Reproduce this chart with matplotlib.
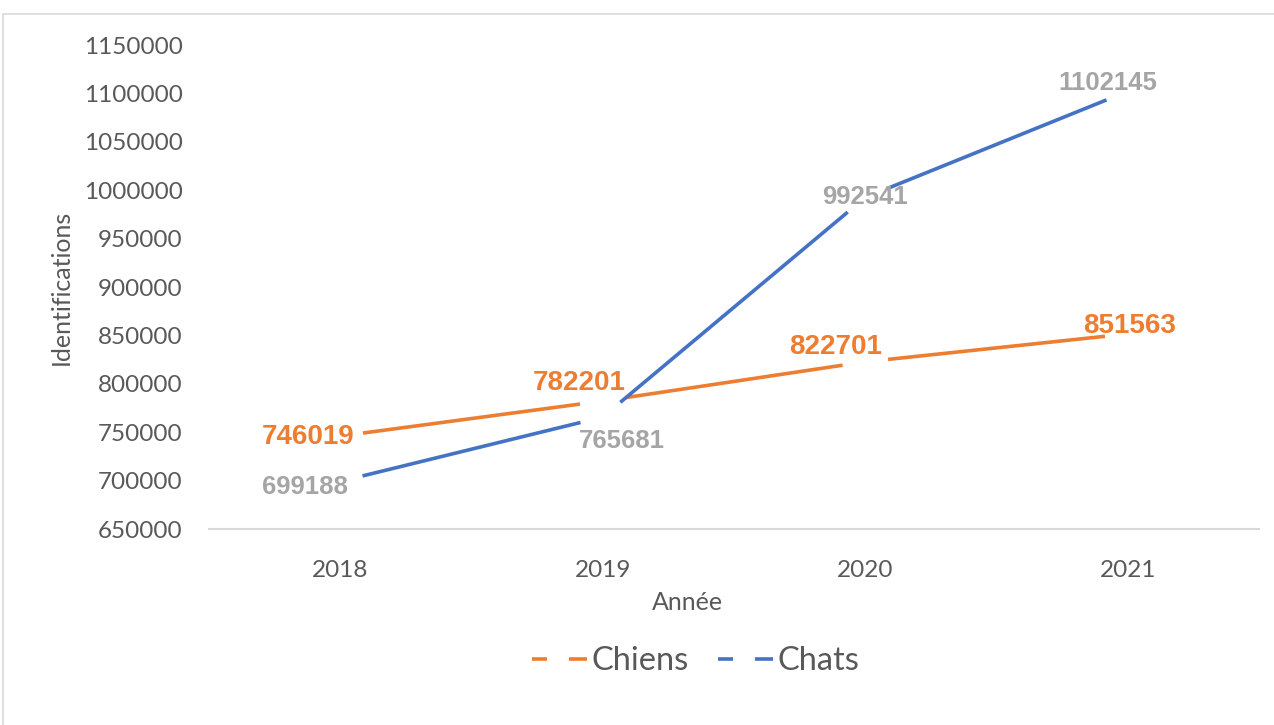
import matplotlib
matplotlib.use("Agg")
import matplotlib.pyplot as plt
from matplotlib.lines import Line2D
from matplotlib.patches import Rectangle
from matplotlib.ticker import FuncFormatter

years = ["2018", "2019", "2020", "2021"]
chiens = [746019, 782201, 822701, 851563]
chats = [699188, 765681, 992541, 1102145]

# label offsets in pixels (dx, dy), as placed in the original chart
chiens_offsets = [(-32, -1), (-24, 18), (-30, 15), (2, 8)]
chats_offsets = [(-35, -6), (19, -24), (0, 0), (-20, 8)]

ORANGE = "#ED7D31"
BLUE = "#4472C4"
GREY_LABEL = "#A5A5A5"
TEXT = "#595959"
UI_FONT = ["Lato", "DejaVu Sans"]
LABEL_FONT = ["Liberation Sans", "DejaVu Sans"]
GAP = 16.5  # points cut from each segment end around a data point
LW = 2.6


def draw_series(ax, values, color):
    xs = list(range(len(values)))
    for i in range(len(values) - 1):
        ax.annotate("", xy=(xs[i + 1], values[i + 1]), xytext=(xs[i], values[i]),
                    xycoords="data", textcoords="data",
                    arrowprops=dict(arrowstyle="-", color=color, lw=LW,
                                    shrinkA=GAP, shrinkB=GAP, capstyle="butt"))


def label_series(ax, values, offsets, color, size):
    for i, (v, (dx, dy)) in enumerate(zip(values, offsets)):
        ax.annotate(str(v), xy=(i, v), xytext=(dx, dy), textcoords="offset pixels",
                    ha="center", va="center", fontsize=size, fontweight="bold",
                    color=color, family=LABEL_FONT)


def main():
    plt.rcParams["lines.scale_dashes"] = False
    fig = plt.figure(figsize=(12.74, 7.25), dpi=100)
    ax = fig.add_axes([209 / 1274, 1 - 529 / 725, 1050 / 1274, 484 / 725])

    # chart area border
    fig.add_artist(Rectangle((3 / 1274, -0.1), 1.2, 1.1 - 14 / 725,
                             transform=fig.transFigure, fill=False,
                             edgecolor="#D9D9D9", lw=1.2))

    draw_series(ax, chiens, ORANGE)
    draw_series(ax, chats, BLUE)
    label_series(ax, chiens, chiens_offsets, ORANGE, 20)
    label_series(ax, chats, chats_offsets, GREY_LABEL, 18.5)

    ax.set_xlim(-0.5, len(years) - 0.5)
    ax.set_ylim(650000, 1150000)
    ax.set_yticks(range(650000, 1150001, 50000))
    ax.yaxis.set_major_formatter(FuncFormatter(lambda v, _: f"{v:.0f}"))
    ax.set_xticks(range(len(years)))
    ax.set_xticklabels(years)

    for side in ["top", "right", "left"]:
        ax.spines[side].set_visible(False)
    ax.spines["bottom"].set_color("#D9D9D9")
    ax.spines["bottom"].set_linewidth(1.5)
    ax.tick_params(axis="both", length=0, labelsize=17.5, labelcolor=TEXT)
    ax.tick_params(axis="y", pad=19)
    ax.tick_params(axis="x", pad=22)
    for t in ax.get_xticklabels() + ax.get_yticklabels():
        t.set_family(UI_FONT)

    ax.set_ylabel("Identifications", fontsize=18, color=TEXT, family=UI_FONT)
    ax.yaxis.set_label_coords(-0.13, 0.5)
    ax.set_xlabel("Année", fontsize=18, color=TEXT, family=UI_FONT)
    ax.xaxis.set_label_coords(0.456, -0.128)

    handles = [
        Line2D([], [], color=ORANGE, lw=LW, linestyle=(0, (10.8, 15.8, 13, 100))),
        Line2D([], [], color=BLUE, lw=LW, linestyle=(0, (10.8, 15.8, 13, 100))),
    ]
    fig.legend(handles, ["Chiens", "Chats"], loc="center", bbox_to_anchor=(0.546, 0.088),
               ncol=2, frameon=False, handlelength=1.7, handletextpad=0.12,
               columnspacing=0.9, prop={"family": UI_FONT, "size": 23.5},
               labelcolor=TEXT)

    fig.savefig("out.png", dpi=100, facecolor="white")


if __name__ == "__main__":
    main()
